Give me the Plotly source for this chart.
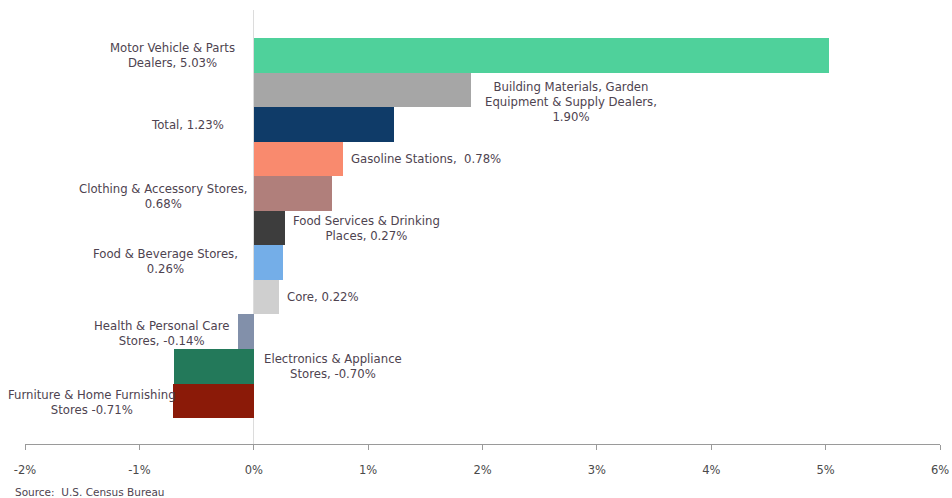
import plotly.graph_objects as go

categories = [
    "Motor Vehicle & Parts<br>Dealers, 5.03%",
    "Building Materials, Garden<br>Equipment & Supply Dealers,<br>1.90%",
    "Total, 1.23%",
    "Gasoline Stations,  0.78%",
    "Clothing & Accessory Stores,<br>0.68%",
    "Food Services & Drinking<br>Places, 0.27%",
    "Food & Beverage Stores,<br>0.26%",
    "Core, 0.22%",
    "Health & Personal Care<br>Stores, -0.14%",
    "Electronics & Appliance<br>Stores, -0.70%",
    "Furniture & Home Furnishing<br>Stores -0.71%",
]
values = [5.03, 1.90, 1.23, 0.78, 0.68, 0.27, 0.26, 0.22, -0.14, -0.70, -0.71]
colors = ["#4fd19b", "#a6a6a6", "#0f3b68", "#f98a6e", "#b07f7b", "#3d3d3d",
          "#74aee8", "#cfcfcf", "#8290aa", "#23795a", "#8b1a08"]
tick_vals = [-2, -1, 0, 1, 2, 3, 4, 5, 6]
tick_text = ["-2%", "-1%", "0%", "1%", "2%", "3%", "4%", "5%", "6%"]

# label placement: (anchor: 'zero' or 'end', xanchor, xshift, yshift)
label_pos = [
    ("zero", "right", -17, 0),
    ("end", "left", 12, -12),
    ("zero", "right", -28, -1),
    ("end", "left", 6, 0),
    ("zero", "right", -5, -3),
    ("end", "left", 6, 0),
    ("zero", "right", -14, 1),
    ("end", "left", 6, 0),
    ("end", "right", -7, -2),
    ("zero", "left", 8, 0),
    ("end", "right", 5, -2),
]

ypos = list(range(len(values)))

fig = go.Figure()
fig.add_trace(go.Bar(
    x=values, y=ypos, orientation="h",
    marker=dict(color=colors, line=dict(width=0)),
    width=1.0, hoverinfo="skip",
))

font_txt = dict(family="DejaVu Sans", size=11.7, color="#4e4350")
for v, y, lab, (anc, xa, xs, ys) in zip(values, ypos, categories, label_pos):
    fig.add_annotation(
        x=0 if anc == "zero" else v, y=y, xref="x", yref="y",
        text=lab, showarrow=False, xanchor=xa, yanchor="middle",
        xshift=xs, yshift=ys, align="center", font=font_txt,
    )

fig.add_annotation(
    x=0, y=0, xref="paper", yref="paper", xanchor="left", yanchor="top",
    text="Source:  U.S. Census Bureau", showarrow=False,
    font=dict(family="DejaVu Sans", size=10.5, color="#4e4350"),
    xshift=-12, yshift=-40,
)

fig.update_layout(
    width=952, height=498,
    margin=dict(l=25, r=12, t=10, b=54),
    paper_bgcolor="white", plot_bgcolor="white",
    showlegend=False, bargap=0,
    xaxis=dict(
        range=[-2, 6], tickvals=tick_vals, ticktext=tick_text,
        automargin=False,
        showgrid=False, zeroline=True, zerolinecolor="#dcdcdc", zerolinewidth=1,
        showline=True, linecolor="#9a9a9a", linewidth=1,
        ticks="outside", ticklen=5, tickcolor="#9a9a9a",
        tickfont=dict(family="DejaVu Sans", size=11.5, color="#4a4a4a"),
        ticklabelstandoff=10,
    ),
    yaxis=dict(
        range=[11.25, -1.31], showticklabels=False, showgrid=False,
        automargin=False,
        zeroline=False, showline=False, ticks="",
    ),
)

fig.write_html("out.html")
